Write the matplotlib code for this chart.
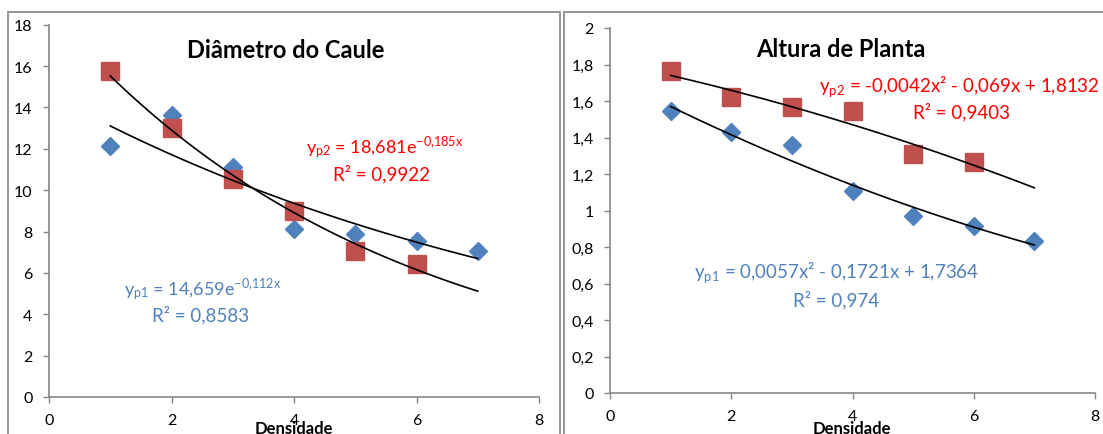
import numpy as np
import matplotlib
matplotlib.use("Agg")
import matplotlib.pyplot as plt
from matplotlib.patches import Rectangle

plt.rcParams["font.family"] = ["Lato", "DejaVu Sans"]

# Dados
densidade = [1, 2, 3, 4, 5, 6, 7]
densidade_p2 = [1, 2, 3, 4, 5, 6]

diam_p1 = [12.15, 13.62, 11.1, 8.13, 7.9, 7.55, 7.08]
diam_p2 = [15.75, 13.02, 10.55, 8.98, 7.07, 6.42]

alt_p1 = [1.547, 1.432, 1.358, 1.107, 0.972, 0.915, 0.832]
alt_p2 = [1.765, 1.62, 1.566, 1.546, 1.308, 1.266]

# coeficientes das linhas de tendencia (como no grafico)
exp_p1 = [14.659, -0.112]
exp_p2 = [18.681, -0.185]
poly_p1 = [0.0057, -0.1721, 1.7364]
poly_p2 = [-0.0042, -0.069, 1.8132]

AZUL = "#4F81BD"
VERMELHO = "#C0504D"
CINZA = "#868686"

fig = plt.figure(figsize=(11.03, 4.35), dpi=100)

# molduras dos graficos
fig.patches.append(Rectangle((8 / 1103, -0.05), 552 / 1103, 1.05 - 13 / 435,
                             transform=fig.transFigure, fill=False,
                             edgecolor="#8c8c8c", lw=1.3))
fig.patches.append(Rectangle((564 / 1103, -0.05), 545 / 1103, 1.05 - 13 / 435,
                             transform=fig.transFigure, fill=False,
                             edgecolor="#8c8c8c", lw=1.3))

ax1 = fig.add_axes([49 / 1103, 1 - 398 / 435, 490 / 1103, 372.3 / 435])
ax2 = fig.add_axes([610 / 1103, 1 - 394 / 435, 485 / 1103, 365 / 435])

xs = np.linspace(1, 7, 60)

# Diametro do caule
ax1.plot(densidade, diam_p1, "D", color=AZUL, ms=9.5, mec=AZUL, zorder=3)
ax1.plot(densidade_p2, diam_p2, "s", color=VERMELHO, ms=13.5, mec=VERMELHO, zorder=3)
ax1.plot(xs, exp_p1[0] * np.exp(exp_p1[1] * xs), color="black", lw=1.2, zorder=4)
ax1.plot(xs, exp_p2[0] * np.exp(exp_p2[1] * xs), color="black", lw=1.2, zorder=4)
ax1.set_xlim(0, 8)
ax1.set_ylim(0, 18)
ax1.set_yticks(range(0, 19, 2))
ax1.set_xticks(range(0, 9, 2))

ax1.text(3.86, 16.8, "Diâmetro do Caule", fontsize=17, fontweight="bold",
         ha="center", va="center")
ax1.text(4.19, 12.1, r"$\mathregular{y_{p2}}$ = 18,681e$^{\mathregular{-0{,}185x}}$",
         color="red", fontsize=13, ha="left", va="center")
ax1.text(5.43, 10.82, "R² = 0,9922", color="red", fontsize=13.5,
         ha="center", va="center")
ax1.text(1.22, 5.22, r"$\mathregular{y_{p1}}$ = 14,659e$^{\mathregular{-0{,}112x}}$",
         color=AZUL, fontsize=13, ha="left", va="center")
ax1.text(2.48, 4.0, "R² = 0,8583", color=AZUL, fontsize=13.5,
         ha="center", va="center")

# Altura de planta
ax2.plot(densidade, alt_p1, "D", color=AZUL, ms=9.5, mec=AZUL, zorder=3)
ax2.plot(densidade_p2, alt_p2, "s", color=VERMELHO, ms=13.5, mec=VERMELHO, zorder=3)
ax2.plot(xs, np.polyval(poly_p1, xs), color="black", lw=1.2, zorder=4)
ax2.plot(xs, np.polyval(poly_p2, xs), color="black", lw=1.2, zorder=4)
ax2.set_xlim(0, 8)
ax2.set_ylim(0, 2)
ax2.set_yticks(np.arange(0, 2.01, 0.2))
ax2.set_yticklabels(["0", "0,2", "0,4", "0,6", "0,8", "1", "1,2", "1,4", "1,6", "1,8", "2"])
ax2.set_xticks(range(0, 9, 2))

ax2.text(3.8, 1.885, "Altura de Planta", fontsize=17, fontweight="bold",
         ha="center", va="center")
ax2.text(3.45, 1.682, r"$\mathregular{y_{p2}}$ = -0,0042x² - 0,069x + 1,8132",
         color="red", fontsize=13.5, ha="left", va="center", clip_on=False)
ax2.text(5.79, 1.545, "R² = 0,9403", color="red", fontsize=13.5,
         ha="center", va="center")
ax2.text(1.38, 0.668, r"$\mathregular{y_{p1}}$ = 0,0057x² - 0,1721x + 1,7364",
         color=AZUL, fontsize=13.5, ha="left", va="center")
ax2.text(3.73, 0.515, "R² = 0,974", color=AZUL, fontsize=13.5,
         ha="center", va="center")

for ax in (ax1, ax2):
    for s in ("top", "right"):
        ax.spines[s].set_visible(False)
    for s in ("left", "bottom"):
        ax.spines[s].set_color(CINZA)
        ax.spines[s].set_linewidth(1.2)
    ax.tick_params(direction="out", length=4.3, width=1, color=CINZA,
                   labelsize=11.5)
    ax.tick_params(axis="y", pad=7.5)
    ax.tick_params(axis="x", pad=7.5)
    ax.set_facecolor("none")

fig.text(294 / 1103, 1 - 429 / 435, "Densidade", fontsize=12, fontweight="bold",
         ha="center", va="center")
fig.text(852 / 1103, 1 - 429 / 435, "Densidade", fontsize=12, fontweight="bold",
         ha="center", va="center")

fig.savefig("out.png", dpi=100)
plt.close("all")
